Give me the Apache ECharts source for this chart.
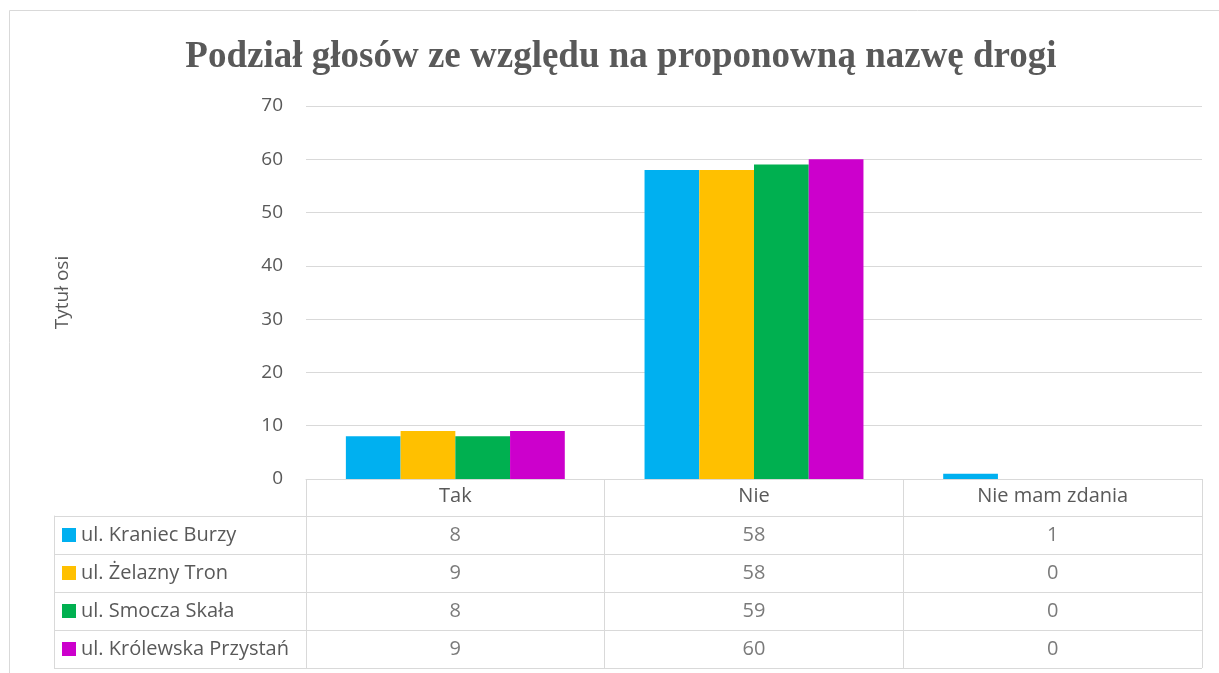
<!DOCTYPE html>
<html>
<head>
<meta charset="utf-8">
<script src="https://cdn.jsdelivr.net/npm/echarts@6/dist/echarts.min.js"></script>
<style>
html, body { margin: 0; padding: 0; background: #fff; }
#barchart { width: 1219px; height: 673px; }
</style>
</head>
<body>
<div id="barchart"></div>
<script>
var categories = [ 'Tak', 'Nie', 'Nie mam zdania' ];
var seriesNames = [ 'ul. Kraniec Burzy', 'ul. Żelazny Tron', 'ul. Smocza Skała', 'ul. Królewska Przystań' ];
var krajBurzy = [ 8, 58, 1 ];
var zelaznyTron = [ 9, 58, 0 ];
var smoczaSkala = [ 8, 59, 0 ];
var krolewskaPrzystan = [ 9, 60, 0 ];
var colors = [ '#00B0F0', '#FFC000', '#00B050', '#CC00CC' ];

var allValues = [ krajBurzy, zelaznyTron, smoczaSkala, krolewskaPrzystan ];
var gridColor = '#D9D9D9';
var textColor = '#595959';
var fontFamily = '"Open Sans", "Noto Sans", sans-serif';

// bars
var series = [];
for (var i = 0; i < seriesNames.length; i++) {
	series.push({
		name : seriesNames[i],
		type : 'bar',
		xAxisIndex : 0,
		yAxisIndex : 0,
		barGap : '0%',
		barCategoryGap : '26.7%',
		itemStyle : {
			color : colors[i]
		},
		data : allValues[i]
	});
}

// table cells (values under each category)
var cells = [];
for (var i = 0; i < seriesNames.length; i++) {
	for (var j = 0; j < categories.length; j++) {
		cells.push([ categories[j], seriesNames[i], allValues[i][j] ]);
	}
}
series.push({
	type : 'scatter',
	xAxisIndex : 1,
	yAxisIndex : 1,
	symbolSize : 1,
	itemStyle : {
		color : 'rgba(0,0,0,0)'
	},
	label : {
		show : true,
		position : 'inside',
		color : textColor,
		fontSize : 20,
		fontFamily : fontFamily,
		formatter : function(p) {
			return p.value[2];
		}
	},
	silent : true,
	data : cells
});

var legendRich = {};
for (var i = 0; i < colors.length; i++) {
	legendRich['s' + i] = {
		width : 14,
		height : 14,
		backgroundColor : colors[i]
	};
}
legendRich.t = {
	color : textColor,
	fontSize : 20,
	fontFamily : fontFamily,
	padding : [ 0, 0, 0, 5 ]
};

var option = {
	animation : false,
	title : {
		text : 'Podział głosów ze względu na proponowną nazwę drogi',
		left : 616,
		top : 34,
		textAlign : 'center',
		textStyle : {
			fontFamily : '"Liberation Serif", "Times New Roman", serif',
			fontWeight : 'bold',
			fontSize : 37,
			color : textColor
		}
	},
	graphic : [ {
		type : 'rect',
		shape : {
			x : 9.5,
			y : 10.5,
			width : 1240,
			height : 700
		},
		style : {
			fill : 'none',
			stroke : gridColor,
			lineWidth : 1
		},
		silent : true
	} ],
	grid : [ {
		left : 306,
		right : 17,
		top : 106,
		bottom : 194
	}, {
		left : 306,
		right : 17,
		top : 516,
		bottom : 5
	} ],
	xAxis : [ {
		type : 'category',
		gridIndex : 0,
		data : categories,
		axisLine : {
			lineStyle : {
				color : gridColor
			}
		},
		axisTick : {
			show : true,
			length : 37,
			interval : 0,
			lineStyle : {
				color : gridColor
			}
		},
		axisLabel : {
			margin : 7,
			color : textColor,
			fontSize : 20,
			fontFamily : fontFamily
		}
	}, {
		type : 'category',
		gridIndex : 1,
		data : categories,
		axisLine : {
			show : false
		},
		axisTick : {
			show : false
		},
		axisLabel : {
			show : false
		},
		splitLine : {
			show : true,
			interval : 0,
			lineStyle : {
				color : gridColor
			}
		}
	} ],
	yAxis : [ {
		type : 'value',
		gridIndex : 0,
		min : 0,
		max : 70,
		interval : 10,
		name : 'Tytuł osi',
		nameLocation : 'middle',
		nameGap : 234,
		nameRotate : 90,
		nameTextStyle : {
			color : textColor,
			fontSize : 19,
			fontFamily : fontFamily
		},
		axisLine : {
			show : false
		},
		axisTick : {
			show : false
		},
		axisLabel : {
			margin : 23,
			color : textColor,
			fontSize : 19,
			fontFamily : fontFamily
		},
		splitLine : {
			lineStyle : {
				color : gridColor
			}
		}
	}, {
		type : 'category',
		gridIndex : 1,
		inverse : true,
		data : seriesNames,
		axisLine : {
			show : false
		},
		axisTick : {
			show : true,
			interval : 0,
			length : 252,
			lineStyle : {
				color : gridColor
			}
		},
		axisLabel : {
			interval : 0,
			align : 'left',
			margin : 244,
			formatter : function(value, index) {
				return '{s' + index + '|}{t|' + value + '}';
			},
			rich : legendRich
		},
		splitLine : {
			show : true,
			interval : 0,
			lineStyle : {
				color : gridColor
			}
		}
	}, {
		type : 'category',
		gridIndex : 1,
		position : 'left',
		offset : 252,
		data : seriesNames,
		axisLine : {
			show : true,
			lineStyle : {
				color : gridColor
			}
		},
		axisTick : {
			show : false
		},
		axisLabel : {
			show : false
		}
	} ],
	series : series
};

var barchart = echarts.init(document.getElementById('barchart'));
barchart.setOption(option);
</script>
</body>
</html>
